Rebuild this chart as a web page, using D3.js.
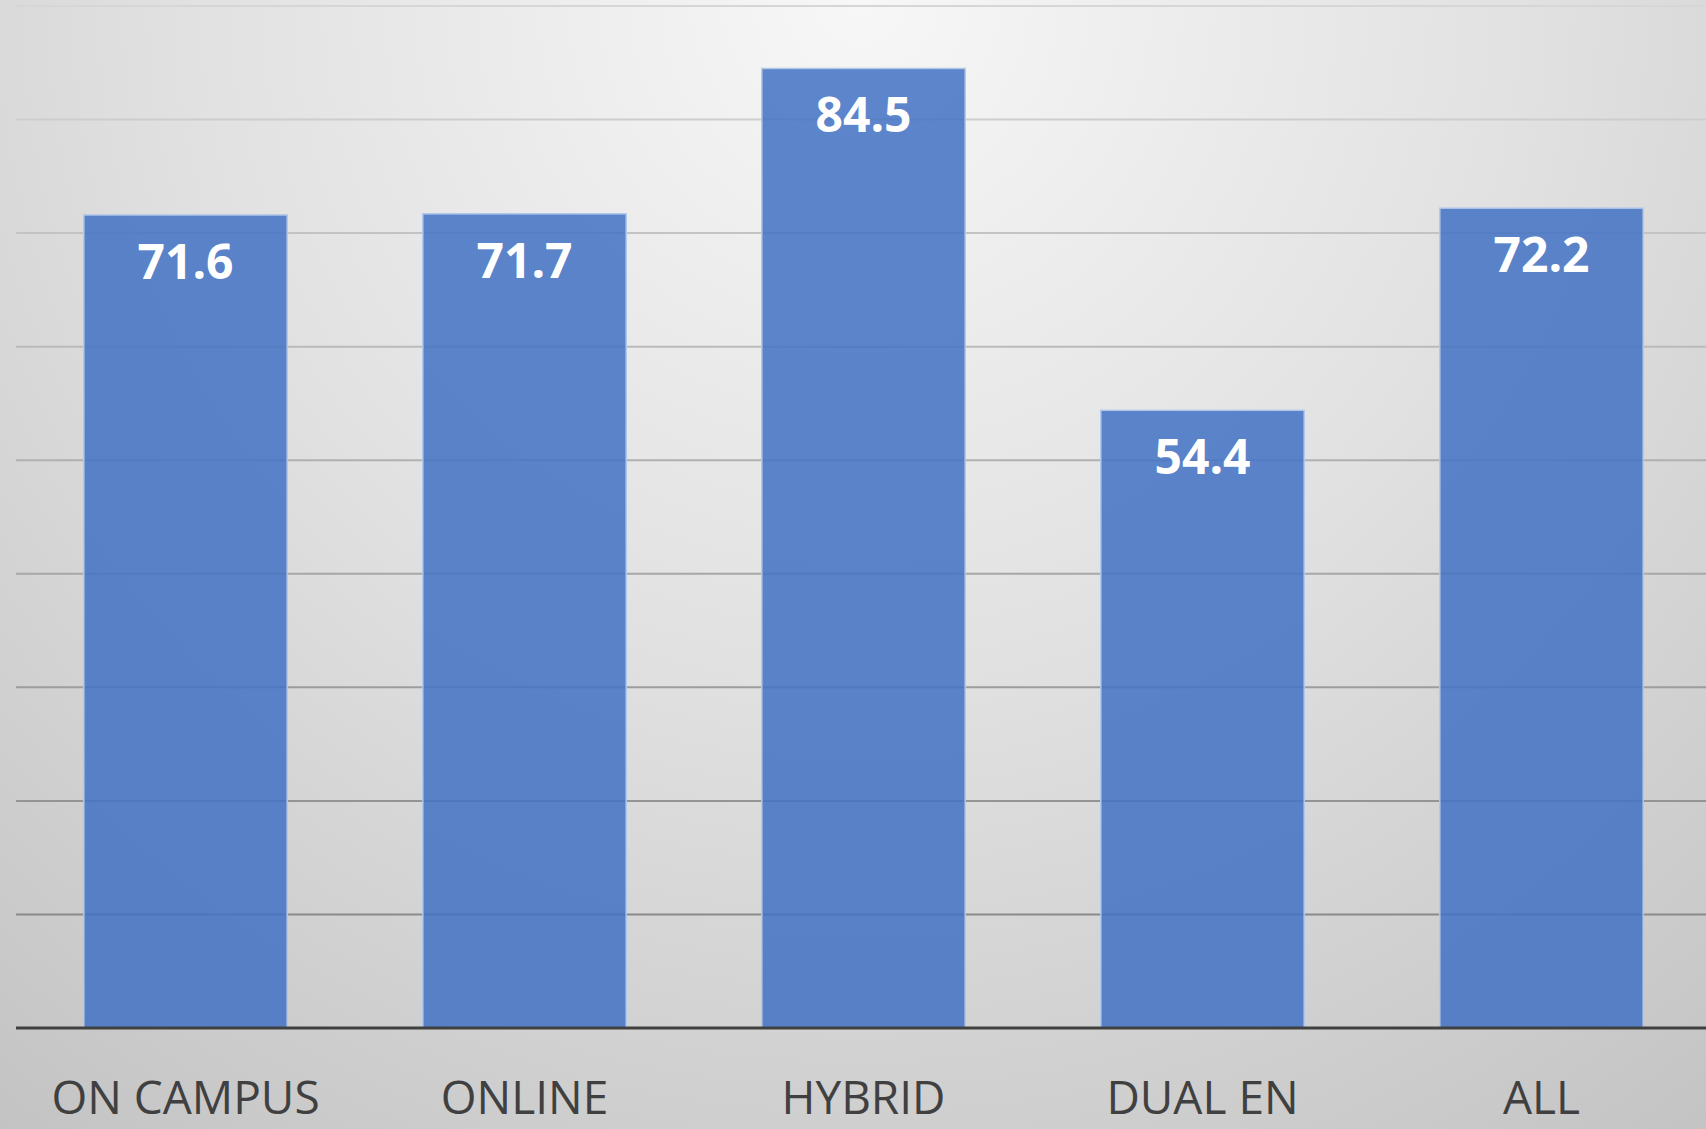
<!DOCTYPE html>
<html>
<head>
<meta charset="utf-8">
<script src="https://cdnjs.cloudflare.com/ajax/libs/d3/7.8.5/d3.min.js"></script>
<style>
html, body { margin: 0; padding: 0; overflow: hidden; }
svg { display: block; }
</style>
</head>
<body>
<script>

var categories = ["ON CAMPUS", "ONLINE", "HYBRID", "DUAL EN", "ALL"];
var values = [71.6, 71.7, 84.5, 54.4, 72.2];
var gridTicks = [10, 20, 30, 40, 50, 60, 70, 80, 90];

var W = 1706, H = 1129;
var plotLeft = 16, plotRight = 1711, plotTop = 6, plotBase = 1028;

var svg = d3.select("body").append("svg")
  .attr("width", W)
  .attr("height", H);

var defs = svg.append("defs");
var bg = defs.append("radialGradient")
  .attr("id", "bg")
  .attr("gradientUnits", "userSpaceOnUse")
  .attr("cx", 860).attr("cy", 0).attr("r", 1500);
bg.append("stop").attr("offset", "0%").attr("stop-color", "#f7f7f7");
bg.append("stop").attr("offset", "45%").attr("stop-color", "#e1e1e1");
bg.append("stop").attr("offset", "100%").attr("stop-color", "#c0c0c0");

svg.append("rect")
  .attr("width", W).attr("height", H)
  .attr("fill", "url(#bg)");

var x = d3.scaleBand()
  .domain(categories)
  .range([plotLeft, plotRight])
  .paddingInner(0.4)
  .paddingOuter(0.2);

var y = d3.scaleLinear()
  .domain([0, 90])
  .range([plotBase, plotTop]);

// gridlines get darker toward the bottom
var gridColor = d3.scaleLinear()
  .domain([90, 10])
  .range(["#d6d6d6", "#8a8a8a"]);

svg.append("g")
  .selectAll("line")
  .data(gridTicks)
  .enter().append("line")
  .attr("x1", plotLeft).attr("x2", W)
  .attr("y1", function(d) { return y(d); })
  .attr("y2", function(d) { return y(d); })
  .attr("stroke", function(d) { return gridColor(d); })
  .attr("stroke-width", 2);

var data = categories.map(function(c, i) { return {cat: c, val: values[i]}; });

svg.append("g")
  .selectAll("rect")
  .data(data)
  .enter().append("rect")
  .attr("x", function(d) { return x(d.cat); })
  .attr("y", function(d) { return y(d.val); })
  .attr("width", x.bandwidth())
  .attr("height", function(d) { return plotBase - y(d.val); })
  .attr("fill", "#4472c4")
  .attr("fill-opacity", 0.86)
  .attr("stroke", "#b4c8ea")
  .attr("stroke-width", 1.5);

svg.append("g")
  .selectAll("text")
  .data(data)
  .enter().append("text")
  .attr("x", function(d) { return x(d.cat) + x.bandwidth() / 2; })
  .attr("y", function(d) { return y(d.val) + 64; })
  .attr("text-anchor", "middle")
  .attr("fill", "#ffffff")
  .style("font-family", "'Open Sans', sans-serif")
  .style("font-weight", "bold")
  .style("font-size", "48px")
  .text(function(d) { return d.val.toFixed(1); });

// x axis
var xAxis = svg.append("g")
  .attr("transform", "translate(0," + plotBase + ")")
  .call(d3.axisBottom(x).tickSize(0).tickPadding(53));

xAxis.select(".domain")
  .attr("d", "M" + plotLeft + ",0H" + W)
  .attr("stroke", "#404040")
  .attr("stroke-width", 3);

xAxis.selectAll("text")
  .attr("fill", "#404040")
  .style("font-family", "'Open Sans', sans-serif")
  .style("font-size", "46px");

</script>
</body>
</html>
